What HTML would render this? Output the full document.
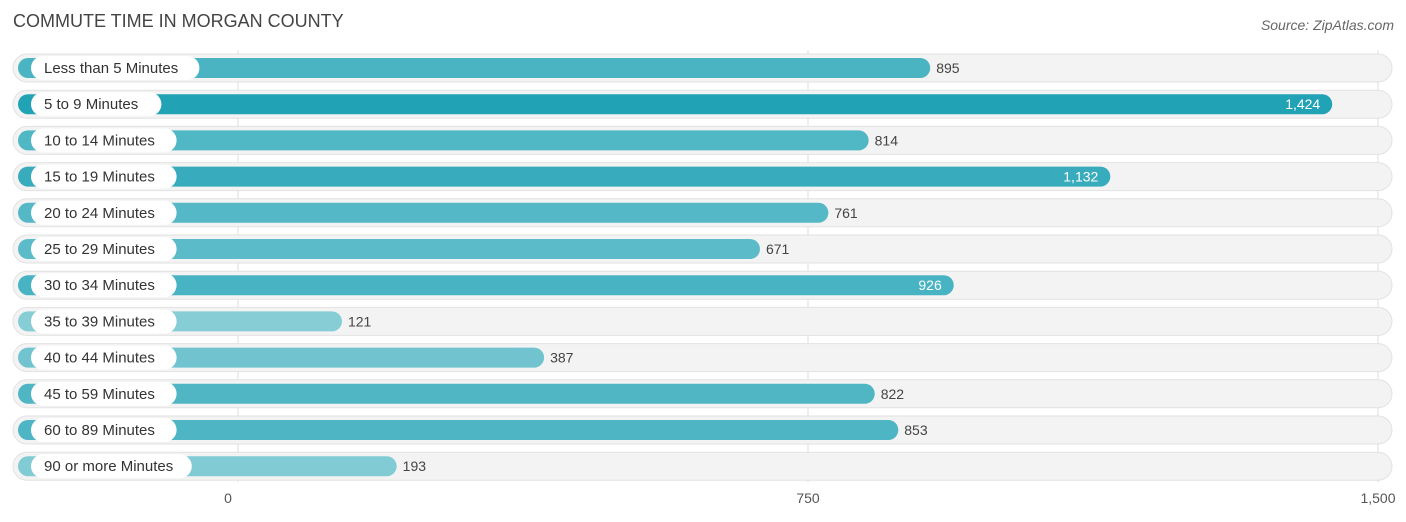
<!DOCTYPE html>
<html><head><meta charset="utf-8"><style>
body{margin:0;background:#fff;font-family:"Liberation Sans",sans-serif;}
svg{display:block}
</style></head><body>
<svg id="chart" width="1406" height="522">
<text x="13" y="27" font-size="18" fill="#444">COMMUTE TIME IN MORGAN COUNTY</text>
<text x="1394" y="30" font-size="14" fill="#666" font-style="italic" text-anchor="end">Source: ZipAtlas.com</text>
<g id="grid"></g><g id="rows"></g><g id="ticks"></g>
</svg>
<script>
const categories=["Less than 5 Minutes","5 to 9 Minutes","10 to 14 Minutes","15 to 19 Minutes","20 to 24 Minutes","25 to 29 Minutes","30 to 34 Minutes","35 to 39 Minutes","40 to 44 Minutes","45 to 59 Minutes","60 to 89 Minutes","90 or more Minutes"];
const values=[895,1424,814,1132,761,671,926,121,387,822,853,193];
const tickValues=[0,750,1500];
const tickLabels=["0","750","1,500"];
const NS="http://www.w3.org/2000/svg";
const x=v=>238+v*0.76;
const rowY=i=>68+i*36.2;
function mk(tag,attrs,parent){const e=document.createElementNS(NS,tag);for(const k in attrs)e.setAttribute(k,attrs[k]);parent.appendChild(e);return e;}
const grid=document.getElementById('grid'),rows=document.getElementById('rows'),ticks=document.getElementById('ticks');
const vmax=Math.max(...values),vmin=Math.min(...values);
function col(v){const t=(v-vmin)/(vmax-vmin);const a=[134,205,214],b=[33,163,181];return `rgb(${a.map((c,i)=>Math.round(c+(b[i]-c)*t)).join(',')})`;}
categories.forEach((c,i)=>{
 const cy=rowY(i);
 const bg=mk('rect',{x:13,y:cy-14,width:1379,height:28,rx:14,fill:'#f3f3f3',stroke:'#e2e2e2','stroke-width':1},rows);
 
 
});
tickValues.forEach((t,i)=>{
 const l=mk('line',{x1:x(t),x2:x(t),y1:50,y2:482,stroke:'#ddd','stroke-width':1},grid);
 
 
 const tx=mk('text',{x:x(t)-(i==0?10:0),y:503,'font-size':14,fill:'#555','text-anchor':i==2?'middle':'middle'},ticks);
 tx.textContent=tickLabels[i];
 
 
});
rows.parentNode.appendChild(rows);
categories.forEach((c,i)=>{
 const cy=rowY(i),v=values[i];
 const end=x(v)+12;
 const bar=mk('rect',{x:18,y:cy-10,width:end-18,height:20,rx:10,fill:col(v)},rows);
 
 
 const tw=c.length*7.6+24;
 const pill=mk('rect',{x:31,y:cy-12,width:tw,height:24,rx:12,fill:'#fff'},rows);
 
 
 const lt=mk('text',{x:44,y:cy+5,'font-size':15,fill:'#333'},rows);
 lt.textContent=c;
 
 
 const inside=v>900;
 const vt=mk('text',{x:inside?end-12:end+6,y:cy+5,'font-size':14,fill:inside?'#fff':'#444','text-anchor':inside?'end':'start'},rows);
 vt.textContent=v.toLocaleString('en-US');
 
 
});
</script>
</body></html>
